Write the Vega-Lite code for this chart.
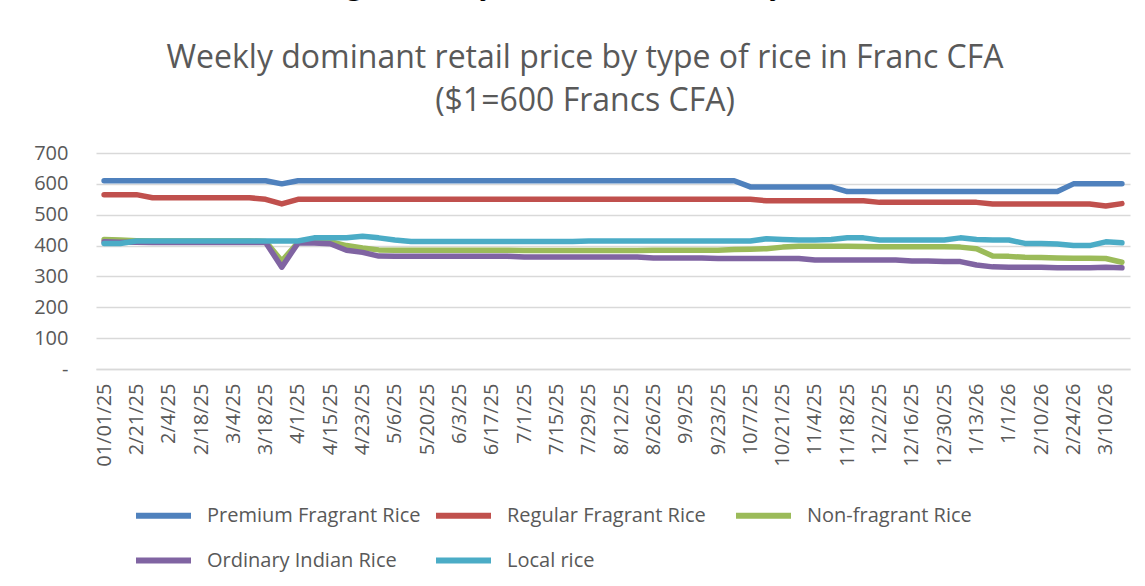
{
  "$schema": "https://vega.github.io/schema/vega-lite/v6.json",
  "width": 1034,
  "height": 216,
  "autosize": {"type": "none"},
  "padding": {"left": 96, "top": 153, "right": 15, "bottom": 217},
  "background": "white",
  "title": {
    "text": "Exhibit 2: Senegal Weekly Rice Prices, January 2025-March 2026",
    "subtitle": ["Weekly dominant retail price by type of rice in Franc CFA", "($1=600 Francs CFA)"],
    "anchor": "middle",
    "dx": -28,
    "offset": 25,
    "font": "Liberation Serif",
    "fontSize": 32,
    "fontWeight": "bold",
    "color": "black",
    "subtitleFont": "Open Sans",
    "subtitleFontSize": 32,
    "subtitleFontWeight": "normal",
    "subtitleColor": "#595959",
    "subtitleLineHeight": 43,
    "subtitlePadding": 42
  },
  "data": {
    "values": [
      {"week": "01/01/25", "Premium Fragrant Rice": 610, "Regular Fragrant Rice": 565, "Non-fragrant Rice": 420, "Ordinary Indian Rice": 412, "Local rice": 407},
      {"week": "2/14/25", "Premium Fragrant Rice": 610, "Regular Fragrant Rice": 565, "Non-fragrant Rice": 418, "Ordinary Indian Rice": 411, "Local rice": 407},
      {"week": "2/21/25", "Premium Fragrant Rice": 610, "Regular Fragrant Rice": 565, "Non-fragrant Rice": 416, "Ordinary Indian Rice": 411, "Local rice": 415},
      {"week": "2/28/25", "Premium Fragrant Rice": 610, "Regular Fragrant Rice": 555, "Non-fragrant Rice": 415, "Ordinary Indian Rice": 410, "Local rice": 415},
      {"week": "2/4/25", "Premium Fragrant Rice": 610, "Regular Fragrant Rice": 555, "Non-fragrant Rice": 415, "Ordinary Indian Rice": 410, "Local rice": 415},
      {"week": "2/11/25", "Premium Fragrant Rice": 610, "Regular Fragrant Rice": 555, "Non-fragrant Rice": 415, "Ordinary Indian Rice": 410, "Local rice": 415},
      {"week": "2/18/25", "Premium Fragrant Rice": 610, "Regular Fragrant Rice": 555, "Non-fragrant Rice": 415, "Ordinary Indian Rice": 410, "Local rice": 415},
      {"week": "2/25/25", "Premium Fragrant Rice": 610, "Regular Fragrant Rice": 555, "Non-fragrant Rice": 415, "Ordinary Indian Rice": 410, "Local rice": 415},
      {"week": "3/4/25", "Premium Fragrant Rice": 610, "Regular Fragrant Rice": 555, "Non-fragrant Rice": 415, "Ordinary Indian Rice": 410, "Local rice": 415},
      {"week": "3/11/25", "Premium Fragrant Rice": 610, "Regular Fragrant Rice": 555, "Non-fragrant Rice": 415, "Ordinary Indian Rice": 410, "Local rice": 415},
      {"week": "3/18/25", "Premium Fragrant Rice": 610, "Regular Fragrant Rice": 550, "Non-fragrant Rice": 413, "Ordinary Indian Rice": 410, "Local rice": 415},
      {"week": "3/25/25", "Premium Fragrant Rice": 600, "Regular Fragrant Rice": 535, "Non-fragrant Rice": 350, "Ordinary Indian Rice": 330, "Local rice": 415},
      {"week": "4/1/25", "Premium Fragrant Rice": 610, "Regular Fragrant Rice": 550, "Non-fragrant Rice": 410, "Ordinary Indian Rice": 408, "Local rice": 415},
      {"week": "4/8/25", "Premium Fragrant Rice": 610, "Regular Fragrant Rice": 550, "Non-fragrant Rice": 415, "Ordinary Indian Rice": 408, "Local rice": 425},
      {"week": "4/15/25", "Premium Fragrant Rice": 610, "Regular Fragrant Rice": 550, "Non-fragrant Rice": 413, "Ordinary Indian Rice": 406, "Local rice": 425},
      {"week": "4/18/25", "Premium Fragrant Rice": 610, "Regular Fragrant Rice": 550, "Non-fragrant Rice": 400, "Ordinary Indian Rice": 385, "Local rice": 425},
      {"week": "4/23/25", "Premium Fragrant Rice": 610, "Regular Fragrant Rice": 550, "Non-fragrant Rice": 392, "Ordinary Indian Rice": 378, "Local rice": 430},
      {"week": "4/29/25", "Premium Fragrant Rice": 610, "Regular Fragrant Rice": 550, "Non-fragrant Rice": 386, "Ordinary Indian Rice": 366, "Local rice": 425},
      {"week": "5/6/25", "Premium Fragrant Rice": 610, "Regular Fragrant Rice": 550, "Non-fragrant Rice": 385, "Ordinary Indian Rice": 365, "Local rice": 418},
      {"week": "5/13/25", "Premium Fragrant Rice": 610, "Regular Fragrant Rice": 550, "Non-fragrant Rice": 385, "Ordinary Indian Rice": 365, "Local rice": 413},
      {"week": "5/20/25", "Premium Fragrant Rice": 610, "Regular Fragrant Rice": 550, "Non-fragrant Rice": 385, "Ordinary Indian Rice": 365, "Local rice": 413},
      {"week": "5/27/25", "Premium Fragrant Rice": 610, "Regular Fragrant Rice": 550, "Non-fragrant Rice": 385, "Ordinary Indian Rice": 365, "Local rice": 413},
      {"week": "6/3/25", "Premium Fragrant Rice": 610, "Regular Fragrant Rice": 550, "Non-fragrant Rice": 385, "Ordinary Indian Rice": 365, "Local rice": 413},
      {"week": "6/10/25", "Premium Fragrant Rice": 610, "Regular Fragrant Rice": 550, "Non-fragrant Rice": 385, "Ordinary Indian Rice": 365, "Local rice": 413},
      {"week": "6/17/25", "Premium Fragrant Rice": 610, "Regular Fragrant Rice": 550, "Non-fragrant Rice": 385, "Ordinary Indian Rice": 365, "Local rice": 413},
      {"week": "6/24/25", "Premium Fragrant Rice": 610, "Regular Fragrant Rice": 550, "Non-fragrant Rice": 385, "Ordinary Indian Rice": 365, "Local rice": 413},
      {"week": "7/1/25", "Premium Fragrant Rice": 610, "Regular Fragrant Rice": 550, "Non-fragrant Rice": 384, "Ordinary Indian Rice": 363, "Local rice": 413},
      {"week": "7/8/25", "Premium Fragrant Rice": 610, "Regular Fragrant Rice": 550, "Non-fragrant Rice": 384, "Ordinary Indian Rice": 363, "Local rice": 413},
      {"week": "7/15/25", "Premium Fragrant Rice": 610, "Regular Fragrant Rice": 550, "Non-fragrant Rice": 384, "Ordinary Indian Rice": 363, "Local rice": 413},
      {"week": "7/22/25", "Premium Fragrant Rice": 610, "Regular Fragrant Rice": 550, "Non-fragrant Rice": 384, "Ordinary Indian Rice": 363, "Local rice": 413},
      {"week": "7/29/25", "Premium Fragrant Rice": 610, "Regular Fragrant Rice": 550, "Non-fragrant Rice": 384, "Ordinary Indian Rice": 363, "Local rice": 415},
      {"week": "8/5/25", "Premium Fragrant Rice": 610, "Regular Fragrant Rice": 550, "Non-fragrant Rice": 384, "Ordinary Indian Rice": 363, "Local rice": 415},
      {"week": "8/12/25", "Premium Fragrant Rice": 610, "Regular Fragrant Rice": 550, "Non-fragrant Rice": 384, "Ordinary Indian Rice": 363, "Local rice": 415},
      {"week": "8/19/25", "Premium Fragrant Rice": 610, "Regular Fragrant Rice": 550, "Non-fragrant Rice": 384, "Ordinary Indian Rice": 363, "Local rice": 415},
      {"week": "8/26/25", "Premium Fragrant Rice": 610, "Regular Fragrant Rice": 550, "Non-fragrant Rice": 385, "Ordinary Indian Rice": 360, "Local rice": 415},
      {"week": "9/2/25", "Premium Fragrant Rice": 610, "Regular Fragrant Rice": 550, "Non-fragrant Rice": 385, "Ordinary Indian Rice": 360, "Local rice": 415},
      {"week": "9/9/25", "Premium Fragrant Rice": 610, "Regular Fragrant Rice": 550, "Non-fragrant Rice": 385, "Ordinary Indian Rice": 360, "Local rice": 415},
      {"week": "9/16/25", "Premium Fragrant Rice": 610, "Regular Fragrant Rice": 550, "Non-fragrant Rice": 385, "Ordinary Indian Rice": 360, "Local rice": 415},
      {"week": "9/23/25", "Premium Fragrant Rice": 610, "Regular Fragrant Rice": 550, "Non-fragrant Rice": 385, "Ordinary Indian Rice": 358, "Local rice": 415},
      {"week": "9/30/25", "Premium Fragrant Rice": 610, "Regular Fragrant Rice": 550, "Non-fragrant Rice": 387, "Ordinary Indian Rice": 358, "Local rice": 415},
      {"week": "10/7/25", "Premium Fragrant Rice": 590, "Regular Fragrant Rice": 550, "Non-fragrant Rice": 388, "Ordinary Indian Rice": 358, "Local rice": 415},
      {"week": "10/14/25", "Premium Fragrant Rice": 590, "Regular Fragrant Rice": 545, "Non-fragrant Rice": 390, "Ordinary Indian Rice": 358, "Local rice": 422},
      {"week": "10/21/25", "Premium Fragrant Rice": 590, "Regular Fragrant Rice": 545, "Non-fragrant Rice": 395, "Ordinary Indian Rice": 358, "Local rice": 420},
      {"week": "10/28/25", "Premium Fragrant Rice": 590, "Regular Fragrant Rice": 545, "Non-fragrant Rice": 398, "Ordinary Indian Rice": 358, "Local rice": 418},
      {"week": "11/4/25", "Premium Fragrant Rice": 590, "Regular Fragrant Rice": 545, "Non-fragrant Rice": 398, "Ordinary Indian Rice": 353, "Local rice": 418},
      {"week": "11/11/25", "Premium Fragrant Rice": 590, "Regular Fragrant Rice": 545, "Non-fragrant Rice": 398, "Ordinary Indian Rice": 353, "Local rice": 420},
      {"week": "11/18/25", "Premium Fragrant Rice": 575, "Regular Fragrant Rice": 545, "Non-fragrant Rice": 398, "Ordinary Indian Rice": 353, "Local rice": 425},
      {"week": "11/25/25", "Premium Fragrant Rice": 575, "Regular Fragrant Rice": 545, "Non-fragrant Rice": 397, "Ordinary Indian Rice": 353, "Local rice": 425},
      {"week": "12/2/25", "Premium Fragrant Rice": 575, "Regular Fragrant Rice": 540, "Non-fragrant Rice": 396, "Ordinary Indian Rice": 353, "Local rice": 418},
      {"week": "12/9/25", "Premium Fragrant Rice": 575, "Regular Fragrant Rice": 540, "Non-fragrant Rice": 396, "Ordinary Indian Rice": 353, "Local rice": 418},
      {"week": "12/16/25", "Premium Fragrant Rice": 575, "Regular Fragrant Rice": 540, "Non-fragrant Rice": 396, "Ordinary Indian Rice": 350, "Local rice": 418},
      {"week": "12/23/25", "Premium Fragrant Rice": 575, "Regular Fragrant Rice": 540, "Non-fragrant Rice": 396, "Ordinary Indian Rice": 350, "Local rice": 418},
      {"week": "12/30/25", "Premium Fragrant Rice": 575, "Regular Fragrant Rice": 540, "Non-fragrant Rice": 396, "Ordinary Indian Rice": 348, "Local rice": 418},
      {"week": "1/6/26", "Premium Fragrant Rice": 575, "Regular Fragrant Rice": 540, "Non-fragrant Rice": 395, "Ordinary Indian Rice": 348, "Local rice": 425},
      {"week": "1/13/26", "Premium Fragrant Rice": 575, "Regular Fragrant Rice": 540, "Non-fragrant Rice": 390, "Ordinary Indian Rice": 337, "Local rice": 420},
      {"week": "1/20/26", "Premium Fragrant Rice": 575, "Regular Fragrant Rice": 535, "Non-fragrant Rice": 366, "Ordinary Indian Rice": 331, "Local rice": 418},
      {"week": "1/1/26", "Premium Fragrant Rice": 575, "Regular Fragrant Rice": 535, "Non-fragrant Rice": 365, "Ordinary Indian Rice": 330, "Local rice": 418},
      {"week": "2/3/26", "Premium Fragrant Rice": 575, "Regular Fragrant Rice": 535, "Non-fragrant Rice": 362, "Ordinary Indian Rice": 330, "Local rice": 407},
      {"week": "2/10/26", "Premium Fragrant Rice": 575, "Regular Fragrant Rice": 535, "Non-fragrant Rice": 361, "Ordinary Indian Rice": 330, "Local rice": 407},
      {"week": "2/17/26", "Premium Fragrant Rice": 575, "Regular Fragrant Rice": 535, "Non-fragrant Rice": 360, "Ordinary Indian Rice": 328, "Local rice": 405},
      {"week": "2/24/26", "Premium Fragrant Rice": 600, "Regular Fragrant Rice": 535, "Non-fragrant Rice": 359, "Ordinary Indian Rice": 328, "Local rice": 400},
      {"week": "3/3/26", "Premium Fragrant Rice": 600, "Regular Fragrant Rice": 535, "Non-fragrant Rice": 359, "Ordinary Indian Rice": 328, "Local rice": 400},
      {"week": "3/10/26", "Premium Fragrant Rice": 600, "Regular Fragrant Rice": 528, "Non-fragrant Rice": 358, "Ordinary Indian Rice": 330, "Local rice": 412},
      {"week": "3/17/26", "Premium Fragrant Rice": 600, "Regular Fragrant Rice": 536, "Non-fragrant Rice": 346, "Ordinary Indian Rice": 328, "Local rice": 409}
    ]
  },
  "transform": [
    {"fold": ["Premium Fragrant Rice", "Regular Fragrant Rice", "Non-fragrant Rice", "Ordinary Indian Rice", "Local rice"], "as": ["type", "price"]}
  ],
  "mark": {"type": "line", "strokeWidth": 5.5, "strokeCap": "round", "strokeJoin": "round"},
  "encoding": {
    "x": {
      "field": "week",
      "type": "ordinal",
      "sort": null,
      "scale": {"type": "point", "padding": 0.5},
      "axis": {
        "title": null,
        "labelAngle": -90,
        "labelPadding": 14,
        "ticks": false,
        "domain": true,
        "domainColor": "#D9D9D9",
        "domainWidth": 1.5,
        "grid": false,
        "labelFont": "Open Sans",
        "labelFontSize": 20,
        "labelColor": "#595959",
        "labelOverlap": false,
        "values": ["01/01/25", "2/21/25", "2/4/25", "2/18/25", "3/4/25", "3/18/25", "4/1/25", "4/15/25", "4/23/25", "5/6/25", "5/20/25", "6/3/25", "6/17/25", "7/1/25", "7/15/25", "7/29/25", "8/12/25", "8/26/25", "9/9/25", "9/23/25", "10/7/25", "10/21/25", "11/4/25", "11/18/25", "12/2/25", "12/16/25", "12/30/25", "1/13/26", "1/1/26", "2/10/26", "2/24/26", "3/10/26"]
      }
    },
    "y": {
      "field": "price",
      "type": "quantitative",
      "scale": {"domain": [0, 700], "nice": false},
      "axis": {
        "title": null,
        "values": [0, 100, 200, 300, 400, 500, 600, 700],
        "labelExpr": "datum.value == 0 ? '-\u00a0\u00a0\u00a0' : datum.label",
        "domain": false,
        "ticks": false,
        "grid": true,
        "gridColor": "#D9D9D9",
        "gridWidth": 1.5,
        "labelPadding": 28,
        "labelFont": "Open Sans",
        "labelFontSize": 20,
        "labelColor": "#595959"
      }
    },
    "color": {
      "field": "type",
      "type": "nominal",
      "scale": {
        "domain": ["Premium Fragrant Rice", "Regular Fragrant Rice", "Non-fragrant Rice", "Ordinary Indian Rice", "Local rice"],
        "range": ["#4F81BD", "#C0504D", "#9BBB59", "#8064A2", "#4BACC6"]
      },
      "legend": {
        "title": null,
        "orient": "none",
        "legendX": 37,
        "legendY": 332,
        "direction": "horizontal",
        "columns": 3,
        "gridAlign": "all",
        "columnPadding": 3,
        "rowPadding": 2,
        "symbolType": "stroke",
        "symbolSize": 3025,
        "symbolStrokeWidth": 6,
        "labelFont": "Open Sans",
        "labelFontSize": 20,
        "labelColor": "#595959",
        "labelOffset": 13,
        "labelLimit": 400
      }
    }
  },
  "config": {"view": {"stroke": null}}
}
